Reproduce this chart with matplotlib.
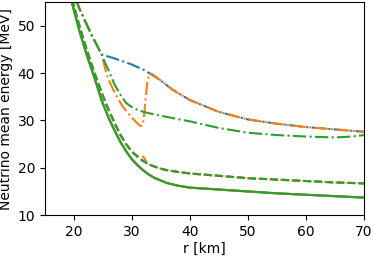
import matplotlib
matplotlib.use("Agg")
import matplotlib.pyplot as plt

# Solid curves (all flavours nearly identical)
r_solid = [19.3, 19.6, 20, 21, 22, 22.5, 23, 24, 24.8, 26, 27, 28, 29, 30, 31, 32, 33, 34, 36, 38, 40, 45, 50, 55, 60, 65, 70]
E_solid = [57, 55.2, 53.3, 48.7, 44.7, 42.8, 41.0, 37.3, 34.2, 30.5, 27.9, 25.5, 23.5, 21.8, 20.5, 19.4, 18.5, 17.8, 16.8, 16.2, 15.8, 15.4, 15.0, 14.6, 14.3, 14.0, 13.7]

# Dashed curves
r_dash = [19.4, 19.7, 20, 21, 22, 23, 24, 25, 26, 27, 28, 29, 30, 31, 31.5, 32, 32.5, 33, 34, 35, 36, 38, 40, 45, 50, 55, 60, 65, 70]
E_dash_green = [57, 55.5, 54.2, 49.8, 45.8, 42.0, 38.5, 35.2, 32.2, 29.5, 27.0, 25.0, 23.4, 22.3, 21.8, 21.4, 21.0, 20.7, 20.2, 19.8, 19.5, 19.1, 18.8, 18.3, 17.8, 17.5, 17.2, 16.9, 16.7]
E_dash_orange = [57, 55.5, 54.2, 49.8, 45.8, 42.0, 38.5, 35.2, 32.2, 29.5, 27.0, 25.0, 23.4, 22.5, 22.6, 22.3, 21.3, 20.7, 20.2, 19.8, 19.5, 19.1, 18.8, 18.3, 17.8, 17.5, 17.2, 16.9, 16.7]

# Dash-dot curves
r_dd_green = [19.9, 20.5, 21, 22, 23, 24, 24.8, 25.3, 26, 27, 28, 29, 30, 31, 32, 33, 35, 37, 40, 45, 50, 55, 60, 65, 68, 70]
E_dd_green = [57, 55, 53.5, 50.8, 48.2, 45.8, 43.9, 42.4, 40.5, 37.6, 35.5, 33.7, 32.8, 32.2, 31.8, 31.5, 31.0, 30.5, 29.8, 28.4, 27.4, 26.9, 26.6, 26.4, 26.6, 26.9]

r_dd_blue = [19.9, 20.5, 21, 22, 23, 24, 24.8, 27, 30, 32, 33, 35, 37, 40, 45, 50, 55, 60, 65, 70]
E_dd_blue = [57, 55, 53.5, 50.8, 48.2, 45.8, 43.9, 43.1, 41.8, 40.7, 40.0, 38.4, 36.5, 34.3, 31.8, 30.2, 29.3, 28.6, 28.1, 27.6]

r_dd_orange = [19.9, 20.5, 21, 22, 23, 24, 24.8, 25.1, 25.6, 26.2, 26.8, 27.6, 28.5, 29.7, 30.6, 31.2, 31.6, 31.9, 32.1, 32.4, 32.7, 33.1, 33.5, 35, 37, 40, 45, 50, 55, 60, 65, 70]
E_dd_orange = [57, 55, 53.5, 50.8, 48.2, 45.8, 43.9, 42.5, 39.8, 38.0, 36.5, 34.6, 32.8, 31.0, 29.8, 29.1, 28.8, 29.3, 31.0, 35.0, 38.5, 39.9, 39.8, 38.4, 36.5, 34.3, 31.8, 30.2, 29.3, 28.6, 28.1, 27.6]

x_ticks = [20, 30, 40, 50, 60, 70]
y_ticks = [10, 20, 30, 40, 50]

fig = plt.figure(figsize=(3.74, 2.57), dpi=100)
ax = fig.add_axes([0.12, 0.163, 0.853, 0.829])

lw = 1.5
ax.plot(r_solid, E_solid, color="C0", lw=lw)
ax.plot(r_dash, E_dash_green, color="C0", lw=lw, ls="--")
ax.plot(r_dd_blue, E_dd_blue, color="C0", lw=lw, ls="-.")
ax.plot(r_solid, E_solid, color="C1", lw=lw)
ax.plot(r_dash, E_dash_orange, color="C1", lw=lw, ls="--")
ax.plot(r_dd_orange, E_dd_orange, color="C1", lw=lw, ls="-.")
ax.plot(r_solid, E_solid, color="C2", lw=lw)
ax.plot(r_dash, E_dash_green, color="C2", lw=lw, ls="--")
ax.plot(r_dd_green, E_dd_green, color="C2", lw=lw, ls="-.")

ax.set_xlim(15, 70)
ax.set_ylim(10, 55)
ax.set_xticks(x_ticks)
ax.set_yticks(y_ticks)
ax.set_xlabel("r [km]", labelpad=2)
ax.set_ylabel("Neutrino mean energy [MeV]", labelpad=3)

fig.savefig("out.png", dpi=100)
